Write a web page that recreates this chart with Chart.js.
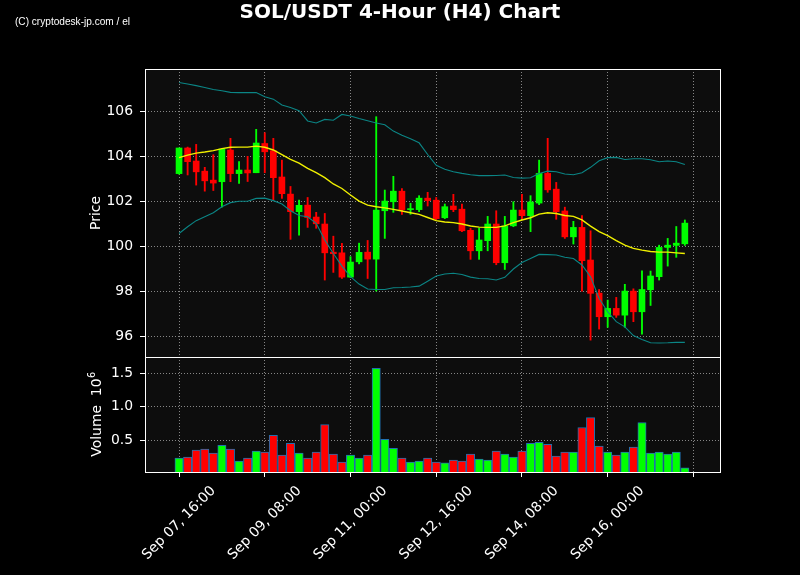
<!DOCTYPE html>
<html><head><meta charset="utf-8">
<script src="https://cdn.jsdelivr.net/npm/chart.js@4/dist/chart.umd.min.js"></script>
<style>html,body{margin:0;padding:0;background:#000;overflow:hidden;}</style>
</head><body>
<canvas id="c" width="800" height="575" style="display:block;width:800px;height:575px"></canvas>
<script>
const opens  = [103.22,104.36,103.78,103.33,102.93,102.86,104.27,103.22,103.38,103.26,104.56,104.24,103.07,102.31,101.53,101.82,101.29,100.98,99.73,99.70,98.62,99.30,99.73,99.42,101.57,101.97,102.44,101.62,101.62,102.13,102.04,101.26,101.78,101.64,100.70,99.79,100.24,100.98,99.26,100.90,101.60,101.35,101.91,103.23,102.53,101.56,100.41,100.83,99.38,97.91,96.86,97.23,96.93,98.00,97.08,98.06,98.64,99.94,100.03,100.10];
const highs  = [104.36,104.40,104.52,103.50,104.06,104.31,104.79,103.75,103.99,105.19,105.04,104.79,103.82,102.65,102.04,102.16,101.50,101.45,100.44,100.12,99.53,100.13,100.25,105.75,102.49,103.10,102.56,101.90,102.24,102.39,102.16,101.87,102.30,101.87,100.79,100.79,101.32,101.57,101.32,101.97,102.30,102.24,103.82,104.79,102.83,101.73,101.10,101.36,100.68,98.07,97.60,97.72,98.30,98.10,98.90,98.89,100.04,100.34,100.87,101.16];
const lows   = [103.20,103.16,102.71,102.44,102.47,101.73,102.86,102.79,102.87,103.26,103.26,102.04,102.12,100.30,100.49,100.83,100.79,98.49,98.83,98.56,98.60,99.21,98.56,98.00,100.34,101.50,101.41,101.41,101.53,101.78,101.17,101.22,101.53,100.64,99.41,99.41,99.79,99.17,98.96,100.86,101.22,100.64,101.84,102.39,101.19,100.34,100.09,98.00,95.82,96.31,96.39,96.83,96.39,96.64,96.09,97.36,98.49,99.11,99.50,100.03];
const closes = [104.36,103.75,103.30,102.90,102.80,104.31,103.22,103.38,103.25,104.58,104.19,103.04,102.33,101.53,101.81,101.27,100.99,99.70,99.66,98.62,99.29,99.72,99.42,101.60,102.00,102.44,101.62,101.66,102.13,102.02,101.22,101.75,101.62,100.68,99.79,100.27,100.98,99.26,100.89,101.60,101.35,101.96,103.23,102.50,101.53,100.41,100.83,99.35,97.90,96.86,97.23,96.93,98.00,97.08,98.07,98.67,99.94,100.04,100.13,101.02];
const volumesM = [0.235,0.25,0.353,0.368,0.309,0.426,0.368,0.191,0.235,0.338,0.324,0.574,0.279,0.456,0.309,0.235,0.324,0.735,0.294,0.176,0.279,0.235,0.279,1.574,0.515,0.382,0.235,0.176,0.191,0.235,0.176,0.162,0.206,0.191,0.294,0.221,0.206,0.338,0.294,0.25,0.338,0.456,0.471,0.441,0.265,0.324,0.324,0.691,0.838,0.412,0.324,0.279,0.324,0.397,0.765,0.309,0.324,0.294,0.324,0.088];
const sma    = [103.93,104.04,104.13,104.18,104.24,104.33,104.39,104.40,104.40,104.44,104.39,104.27,104.06,103.85,103.69,103.45,103.26,103.04,102.76,102.56,102.27,102.00,101.82,101.75,101.70,101.63,101.56,101.48,101.41,101.27,101.13,101.07,101.04,100.98,100.89,100.84,100.83,100.83,100.90,101.04,101.16,101.26,101.42,101.48,101.45,101.36,101.32,101.16,100.89,100.64,100.46,100.24,100.04,99.90,99.82,99.76,99.73,99.73,99.70,99.67];
const upperBand = [107.27,107.20,107.13,107.05,106.96,106.90,106.83,106.82,106.82,106.82,106.64,106.53,106.27,106.16,106.02,105.56,105.47,105.63,105.59,105.85,105.78,105.67,105.57,105.47,105.39,105.11,104.93,104.77,104.59,104.07,103.59,103.41,103.30,103.23,103.17,103.13,103.13,103.14,103.16,103.05,103.02,103.04,103.23,103.33,103.30,103.20,103.17,103.26,103.50,103.79,103.93,103.94,103.85,103.88,103.88,103.84,103.75,103.78,103.75,103.63];
const lowerBand = [100.56,100.86,101.13,101.30,101.48,101.75,101.93,101.99,101.99,102.12,102.13,102.02,101.87,101.57,101.36,101.30,101.01,100.27,99.67,99.11,98.64,98.31,98.09,98.07,98.07,98.15,98.16,98.18,98.22,98.44,98.67,98.76,98.79,98.74,98.62,98.56,98.55,98.49,98.61,98.98,99.27,99.45,99.63,99.62,99.60,99.50,99.45,99.16,98.64,97.67,97.08,96.64,96.41,96.02,95.85,95.70,95.69,95.70,95.72,95.72];
const xTickPositions = [0,10,20,30,40,50,60];
const xTickLabels = ['Sep 07, 16:00','Sep 09, 08:00','Sep 11, 00:00','Sep 12, 16:00','Sep 14, 08:00','Sep 16, 00:00',''];
const priceTicks = [96,98,100,102,104,106];
const volumeTicks = [0.5,1.0,1.5];
const titleText = 'SOL/USDT 4-Hour (H4) Chart';
const watermarkText = '(C) cryptodesk-jp.com / el';

const UP = '#00ff00', DOWN = '#ff0000';
const candleColor = (i) => closes[i] >= opens[i] ? UP : DOWN;
const colorsArr = opens.map((o, i) => candleColor(i));
const FONT = '"DejaVu Sans", sans-serif';
const GRIDC = 'rgba(175,175,175,0.75)';

const deco = {
  id: 'deco',
  beforeDraw(chart) {
    const ctx = chart.ctx, a = chart.chartArea;
    ctx.save();
    ctx.fillStyle = '#000';
    ctx.fillRect(0, 0, chart.width, chart.height);
    ctx.fillStyle = '#0d0d0d';
    ctx.fillRect(a.left, a.top, a.right - a.left, a.bottom - a.top);
    ctx.restore();
  },
  afterDraw(chart) {
    const ctx = chart.ctx, a = chart.chartArea;
    const yp = chart.scales.y, yv = chart.scales.yv, xs = chart.scales.x;
    ctx.save();
    // spines
    ctx.strokeStyle = '#ffffff';
    ctx.lineWidth = 1;
    ctx.strokeRect(Math.round(a.left) + 0.5, Math.round(yp.top) + 0.5, Math.round(a.right - a.left), Math.round(yp.bottom - yp.top));
    ctx.strokeRect(Math.round(a.left) + 0.5, Math.round(yv.top) + 0.5, Math.round(a.right - a.left), Math.round(yv.bottom - yv.top));
    // title
    ctx.fillStyle = '#ffffff';
    ctx.font = 'bold 20px ' + FONT;
    ctx.textAlign = 'center';
    ctx.textBaseline = 'alphabetic';
    ctx.fillText(titleText, 400, 18);
    // watermark
    ctx.font = '11px "Liberation Sans", Arial, sans-serif';
    ctx.textAlign = 'left';
    const ww = ctx.measureText(watermarkText).width;
    ctx.save();
    ctx.translate(15, 25);
    ctx.scale(115 / ww, 1);
    ctx.fillText(watermarkText, 0, 0);
    ctx.restore();
    // y axis titles
    ctx.font = '13.9px ' + FONT;
    ctx.save();
    ctx.translate(96, (yp.top + yp.bottom) / 2);
    ctx.rotate(-Math.PI / 2);
    ctx.textAlign = 'center';
    ctx.textBaseline = 'middle';
    ctx.fillText('Price', 0, 0);
    ctx.restore();
    ctx.save();
    ctx.translate(97, (yv.top + yv.bottom) / 2);
    ctx.rotate(-Math.PI / 2);
    ctx.textBaseline = 'middle';
    ctx.textAlign = 'left';
    const mainT = 'Volume  10';
    ctx.font = '13.9px ' + FONT;
    const w1 = ctx.measureText(mainT).width;
    ctx.font = '9.7px ' + FONT;
    const w2 = ctx.measureText('6').width;
    const start = -(w1 + w2) / 2;
    ctx.font = '13.9px ' + FONT;
    ctx.fillText(mainT, start, 0);
    ctx.font = '9.7px ' + FONT;
    ctx.fillText('6', start + w1 + 0.5, -5);
    ctx.restore();
    // x tick labels rotated 45, centered on tick
    ctx.font = '13.9px ' + FONT;
    ctx.textAlign = 'center';
    ctx.textBaseline = 'middle';
    xTickPositions.forEach((p, k) => {
      const lab = xTickLabels[k];
      if (!lab) return;
      const x = xs.getPixelForValue(p);
      const w = ctx.measureText(lab).width;
      const half = (w + 16) * Math.SQRT1_2 / 2;
      ctx.save();
      ctx.translate(x, a.bottom + 11 + half);
      ctx.rotate(-Math.PI / 4);
      ctx.fillText(lab, 0, 0);
      ctx.restore();
    });
    ctx.restore();
  }
};

const idx = opens.map((_, i) => i);

new Chart(document.getElementById('c'), {
  type: 'bar',
  data: {
    datasets: [
      { type: 'line', label: 'Upper', data: idx.map(i => ({x: i, y: upperBand[i]})), yAxisID: 'y', borderColor: '#0b8585', borderWidth: 1.1, pointRadius: 0, tension: 0, order: 0 },
      { type: 'line', label: 'Lower', data: idx.map(i => ({x: i, y: lowerBand[i]})), yAxisID: 'y', borderColor: '#0b8585', borderWidth: 1.1, pointRadius: 0, tension: 0, order: 0 },
      { type: 'line', label: 'SMA', data: idx.map(i => ({x: i, y: sma[i]})), yAxisID: 'y', borderColor: '#f0f000', borderWidth: 1.4, pointRadius: 0, tension: 0, order: 0 },
      { label: 'Body', data: idx.map(i => ({x: i, y: [opens[i], closes[i]]})), yAxisID: 'y', backgroundColor: colorsArr, borderWidth: 0, barThickness: 6, minBarLength: 1, grouped: false, order: 1 },
      { label: 'Wick', data: idx.map(i => ({x: i, y: [lows[i], highs[i]]})), yAxisID: 'y', backgroundColor: colorsArr, borderWidth: 0, barThickness: 1.2, grouped: false, order: 2 },
      { label: 'Volume', data: idx.map(i => ({x: i, y: volumesM[i]})), yAxisID: 'yv', backgroundColor: colorsArr, borderColor: '#2070b0', borderWidth: 1, barThickness: 8.3, grouped: false, order: 3 }
    ]
  },
  options: {
    responsive: false,
    animation: false,
    devicePixelRatio: 1,
    layout: { padding: { left: 0, right: 80, top: 69, bottom: 0 } },
    plugins: { legend: { display: false }, tooltip: { enabled: false }, title: { display: false } },
    scales: {
      x: {
        type: 'linear', position: 'bottom', min: -3.97, max: 63.1, offset: false, bounds: 'data',
        grid: { offset: false, color: GRIDC, lineWidth: 1, drawTicks: true, tickLength: 5, tickColor: '#ffffff', tickWidth: 1 },
        border: { display: false, dash: [1, 2] },
        ticks: { display: false },
        afterBuildTicks: s => { s.ticks = xTickPositions.map(v => ({value: v})); },
        afterFit: s => { s.height = 103; s.paddingLeft = 0; s.paddingRight = 0; }
      },
      yv: {
        type: 'linear', position: 'left', stack: 'panels', stackWeight: 115, min: 0.027, max: 1.743, bounds: 'data',
        grid: { offset: false, color: GRIDC, lineWidth: 1, drawTicks: true, tickLength: 5, tickColor: '#ffffff', tickWidth: 1 },
        border: { display: false, dash: [1, 2] },
        ticks: { color: '#ffffff', font: { family: 'DejaVu Sans', size: 13.9 }, padding: 7, callback: v => Number(v).toFixed(1) },
        afterBuildTicks: s => { s.ticks = volumeTicks.map(v => ({value: v})); },
        afterFit: s => { s.width = 145; s.paddingTop = 0; s.paddingBottom = 0; }
      },
      y: {
        type: 'linear', position: 'left', stack: 'panels', stackWeight: 288, min: 95.07, max: 107.87, bounds: 'data',
        grid: { offset: false, color: GRIDC, lineWidth: 1, drawTicks: true, tickLength: 5, tickColor: '#ffffff', tickWidth: 1 },
        border: { display: false, dash: [1, 2] },
        ticks: { color: '#ffffff', font: { family: 'DejaVu Sans', size: 13.9 }, padding: 7, callback: v => String(v) },
        afterBuildTicks: s => { s.ticks = priceTicks.map(v => ({value: v})); },
        afterFit: s => { s.width = 145; s.paddingTop = 0; s.paddingBottom = 0; }
      }
    }
  },
  plugins: [deco]
});
</script>
</body></html>
